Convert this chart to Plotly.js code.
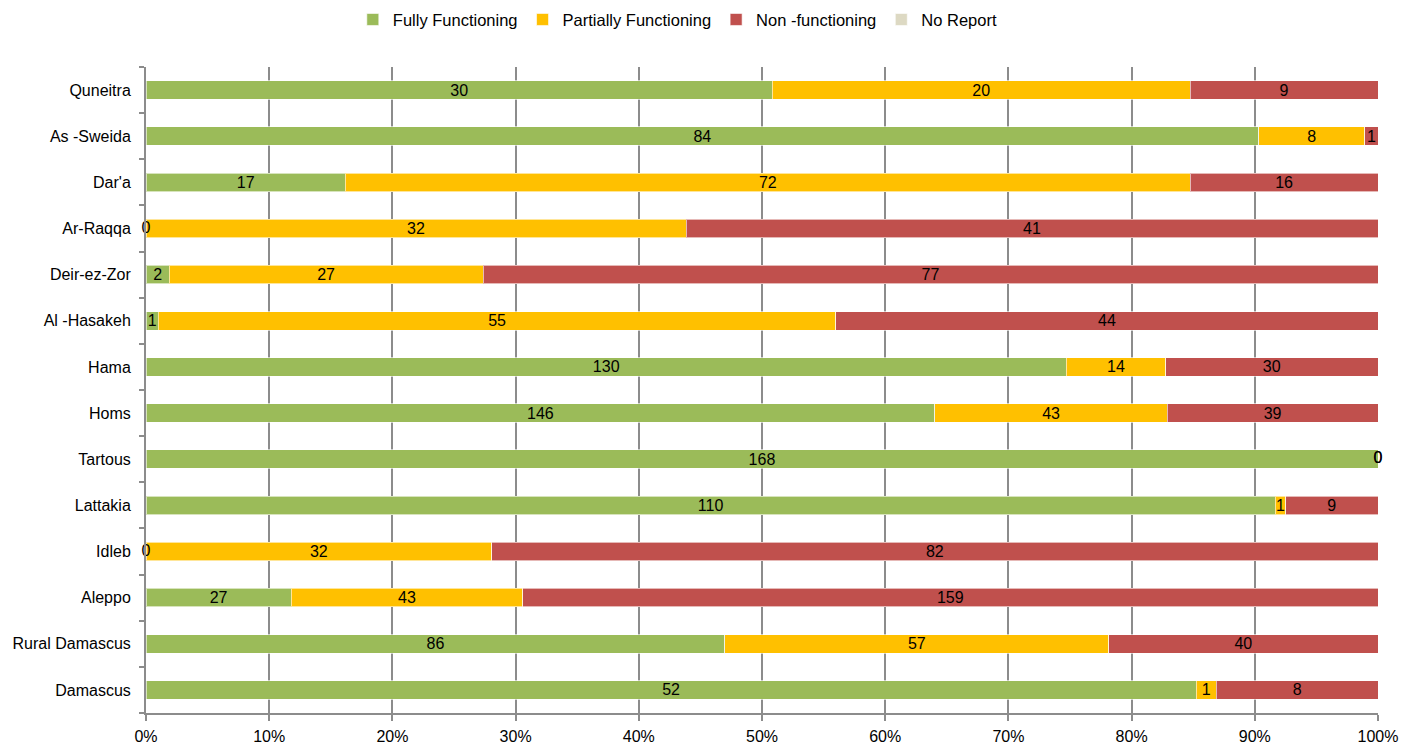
<!DOCTYPE html>
<html>
<head>
<meta charset="utf-8">
<script src="https://cdn.plot.ly/plotly-3.0.1.min.js"></script>
<style>html,body{margin:0;padding:0;background:#fff;}#chart{width:1418px;height:746px;}</style>
</head>
<body>
<div id="chart"></div>
<script>
// Categories listed bottom to top (Plotly category order)
var governorates = ["Damascus","Rural Damascus","Aleppo","Idleb","Lattakia","Tartous","Homs","Hama","Al -Hasakeh","Deir-ez-Zor","Ar-Raqqa","Dar'a","As -Sweida","Quneitra"];
var fully     = [52, 86, 27, 0, 110, 168, 146, 130, 1, 2, 0, 17, 84, 30];
var partially = [1, 57, 43, 32, 1, 0, 43, 14, 55, 27, 32, 72, 8, 20];
var nonFunc   = [8, 40, 159, 82, 9, 0, 39, 30, 44, 77, 41, 16, 1, 9];
var noReport  = [0, 0, 0, 0, 0, 0, 0, 0, 0, 0, 0, 0, 0, 0];
var seriesNames = ["Fully Functioning", "Partially Functioning", "Non -functioning", "No Report"];
var seriesColors = ["#9BBB59", "#FFC000", "#C0504D", "#DDD9C3"];
var xTickVals = [0,10,20,30,40,50,60,70,80,90,100];
var xTickText = ["0%","10%","20%","30%","40%","50%","60%","70%","80%","90%","100%"];

var FONT = "'Liberation Sans', Arial, sans-serif";
var allSeries = [fully, partially, nonFunc, noReport];
var totals = governorates.map(function(_, i){ return fully[i] + partially[i] + nonFunc[i] + noReport[i]; });
var pct = allSeries.map(function(s){ return s.map(function(v, i){ return totals[i] ? v / totals[i] * 100 : 0; }); });

var traces = allSeries.map(function(s, k){
  return {
    type: 'bar', orientation: 'h', name: seriesNames[k],
    y: governorates, x: pct[k],
    text: k < 3 ? s.map(function(v){ return v > 0 ? String(v) : ''; }) : null,
    textposition: 'inside', insidetextanchor: 'middle', constraintext: 'none', textangle: 0,
    textfont: {family: FONT, size: 16, color: '#000'},
    marker: {color: seriesColors[k], line: {color: 'rgba(255,255,255,0.6)', width: 1}},
    width: 0.4, hoverinfo: 'skip'
  };
});

// Labels for zero-valued segments (drawn at their stacked position)
var zx = [], zy = [], zt = [];
for (var k = 0; k < 3; k++) {
  for (var i = 0; i < governorates.length; i++) {
    if (allSeries[k][i] === 0) {
      var c = 0; for (var j = 0; j < k; j++) c += pct[j][i];
      zx.push(c); zy.push(governorates[i]); zt.push('0');
    }
  }
}
traces.push({type: 'scatter', mode: 'text', x: zx, y: zy, text: zt, textposition: 'middle center',
  textfont: {family: FONT, size: 16, color: '#000'}, showlegend: false, hoverinfo: 'skip', cliponaxis: false});

var layout = {
  width: 1418, height: 746,
  margin: {l: 146, r: 40, t: 67, b: 33},
  barmode: 'stack', bargap: 0.6,
  paper_bgcolor: '#fff', plot_bgcolor: '#fff',
  font: {family: FONT, size: 16, color: '#000'},
  showlegend: true,
  legend: {orientation: 'h', x: 0.478, xanchor: 'center', xref: 'container', y: 0.997, yanchor: 'top', yref: 'container',
    traceorder: 'normal', font: {family: FONT, size: 16.5, color: '#000'}, itemwidth: 30},
  xaxis: {range: [0, 100], tickvals: xTickVals, ticktext: xTickText, showgrid: true, gridcolor: '#8C8C8C', gridwidth: 2,
    zeroline: false, showline: true, linecolor: '#8C8C8C', linewidth: 2, ticks: 'outside', ticklen: 6, tickcolor: '#8C8C8C', tickwidth: 2,
    ticklabelstandoff: 2, tickfont: {family: FONT, size: 16}, fixedrange: true},
  yaxis: {type: 'category', categoryorder: 'array', categoryarray: governorates, showgrid: false, zeroline: false,
    showline: true, linecolor: '#8C8C8C', linewidth: 2, ticks: 'outside', tickson: 'boundaries', ticklen: 5, tickcolor: '#8C8C8C', tickwidth: 2,
    ticklabelstandoff: 10, tickfont: {family: FONT, size: 16}, fixedrange: true}
};

Plotly.newPlot('chart', traces, layout, {displayModeBar: false, staticPlot: true});
</script>
</body>
</html>
